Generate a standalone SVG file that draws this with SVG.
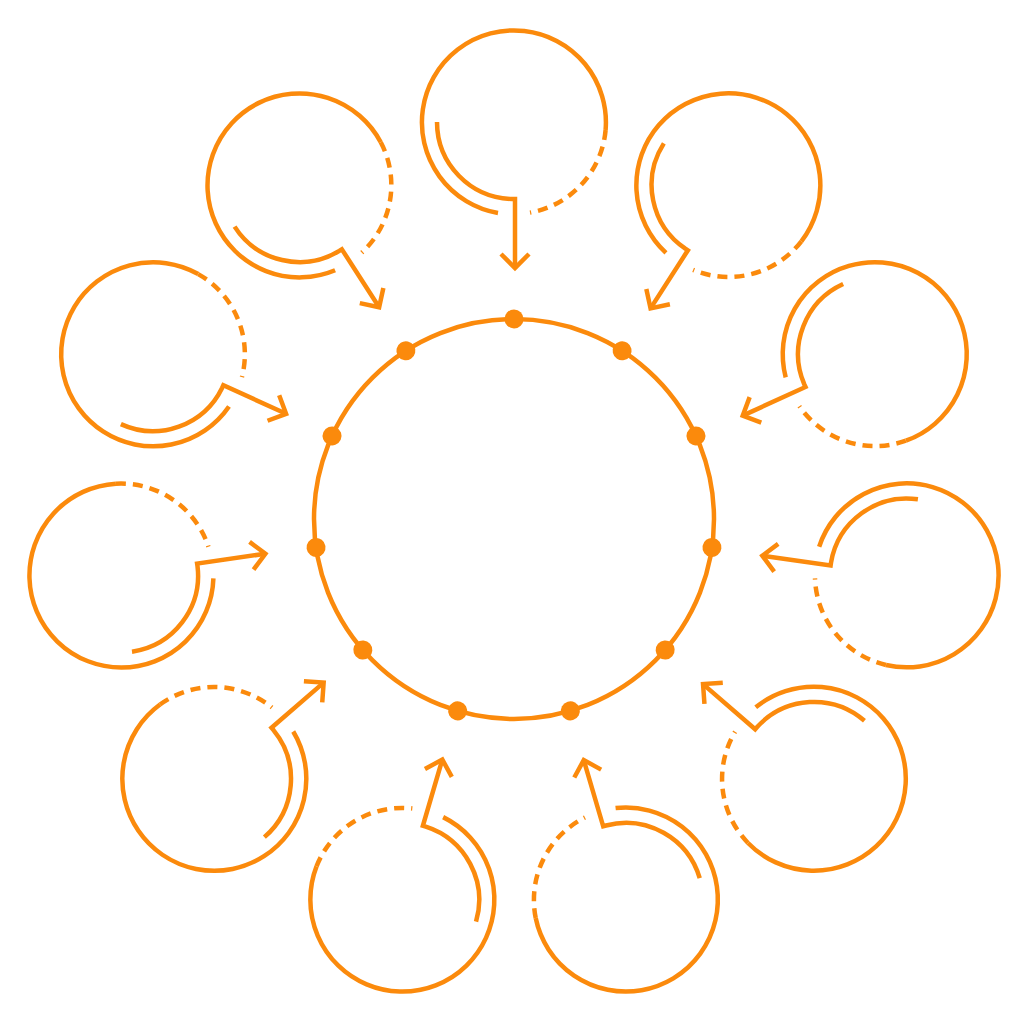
<svg xmlns="http://www.w3.org/2000/svg" xmlns:xlink="http://www.w3.org/1999/xlink" width="1024" height="1024" viewBox="0 0 1024 1024">
<style>
.s{fill:none;stroke:#FB8A0C;stroke-width:4.5;stroke-linecap:butt;stroke-linejoin:miter}
.d{stroke-dasharray:10 7}
.dot{fill:#FB8A0C}
</style>
<defs>
<g id="unit">
<path class="s" d="M498,213 A92,92 0 1 1 605.6,130"/>
<path class="s d" d="M605.6,130 A92,92 0 0 1 530,212.6"/>
<path class="s" d="M437,122 A77,77 0 0 0 512,199 L515,199 L515,268"/>
<path class="s" d="M501,254 L515,268 L529,254"/>
</g>
<circle id="dt" class="dot" cx="514" cy="319" r="9.5"/>
</defs>
<rect width="1024" height="1024" fill="#fff"/>
<g id="hub">
<circle class="s" cx="514" cy="519" r="200" stroke-width="3.8"/>
<use xlink:href="#dt"/>
<use xlink:href="#dt" transform="rotate(32.727 514 519)"/>
<use xlink:href="#dt" transform="rotate(65.455 514 519)"/>
<use xlink:href="#dt" transform="rotate(98.182 514 519)"/>
<use xlink:href="#dt" transform="rotate(130.909 514 519)"/>
<use xlink:href="#dt" transform="rotate(163.636 514 519)"/>
<use xlink:href="#dt" transform="rotate(196.364 514 519)"/>
<use xlink:href="#dt" transform="rotate(229.091 514 519)"/>
<use xlink:href="#dt" transform="rotate(261.818 514 519)"/>
<use xlink:href="#dt" transform="rotate(294.545 514 519)"/>
<use xlink:href="#dt" transform="rotate(327.273 514 519)"/>
</g>
<g id="connectors">
<g id="n1"><use xlink:href="#unit"/></g>
<g id="n2"><use xlink:href="#unit" transform="rotate(32.727 514 519)"/></g>
<g id="n3"><use xlink:href="#unit" transform="rotate(65.455 514 519)"/></g>
<g id="n4"><use xlink:href="#unit" transform="rotate(98.182 514 519)"/></g>
<g id="n5"><use xlink:href="#unit" transform="rotate(130.909 514 519)"/></g>
<g id="n6"><use xlink:href="#unit" transform="rotate(163.636 514 519)"/></g>
<g id="n7"><use xlink:href="#unit" transform="rotate(196.364 514 519)"/></g>
<g id="n8"><use xlink:href="#unit" transform="rotate(229.091 514 519)"/></g>
<g id="n9"><use xlink:href="#unit" transform="rotate(261.818 514 519)"/></g>
<g id="n10"><use xlink:href="#unit" transform="rotate(294.545 514 519)"/></g>
<g id="n11"><use xlink:href="#unit" transform="rotate(327.273 514 519)"/></g>
</g>
</svg>
